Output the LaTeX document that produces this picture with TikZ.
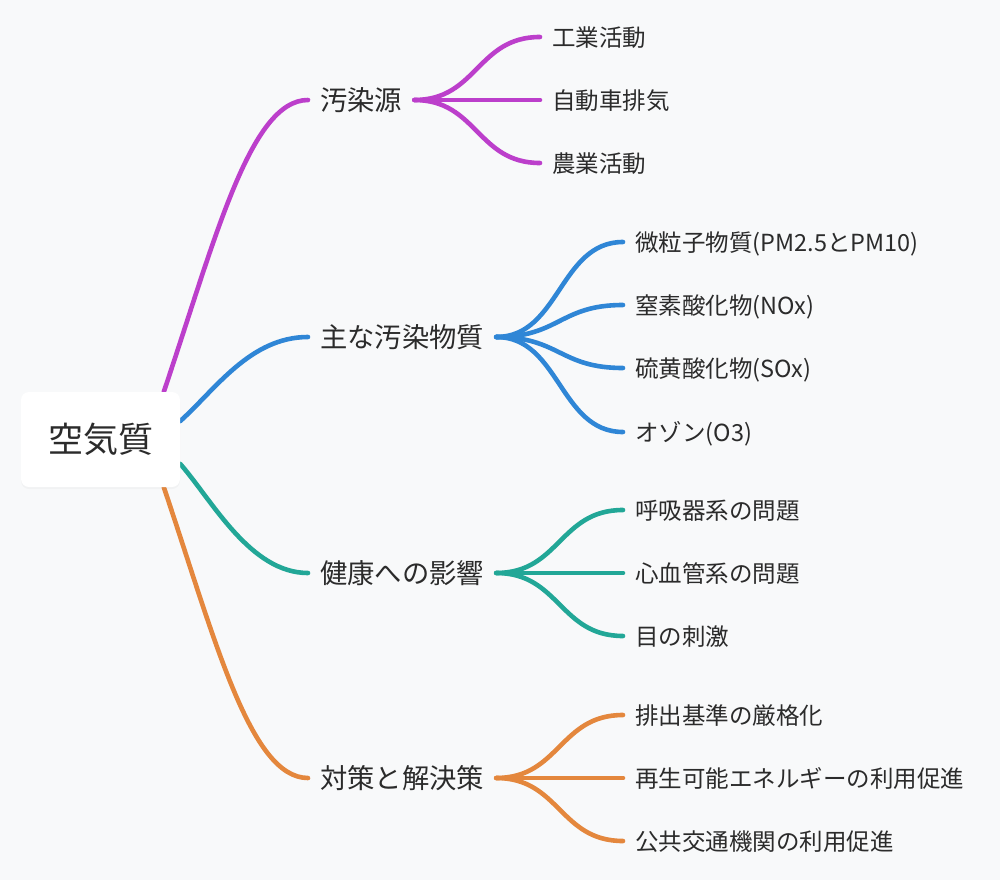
\documentclass[tikz,border=0pt]{standalone}
\usepackage{fontspec}
\setmainfont{Noto Sans CJK JP}
\usetikzlibrary{calc,shadows}
\definecolor{bgc}{HTML}{F8F9FA}
\definecolor{cpur}{HTML}{BC3FCB}
\definecolor{cblu}{HTML}{2F86D6}
\definecolor{ctea}{HTML}{22A797}
\definecolor{cora}{HTML}{E4873D}
\definecolor{txt}{HTML}{2B2B2B}
\pgfdeclarelayer{back}
\pgfsetlayers{back,main}
\newcommand{\mmcurve}[3]{%
  \path ($(#1.east)!0.5!(#2.west)$) coordinate (mmmid);
  \draw[edge,#3] (#1.east) .. controls (mmmid |- #1.east) and (mmmid |- #2.west) .. (#2.west);}
\begin{document}
\begin{tikzpicture}[x=1pt,y=-1pt,
  rootbox/.style={draw=none, fill=white, rounded corners=8pt, minimum width=159pt, minimum height=95pt,
    font=\fontsize{35}{40}\selectfont, text=txt, text height=30.8pt, text depth=4.2pt,
    drop shadow={opacity=0.05, shadow xshift=0pt, shadow yshift=-2pt}},
  lone/.style={anchor=west, inner xsep=12pt, inner ysep=0pt, text height=24pt, text depth=3.3pt,
    font=\fontsize{27.3}{31}\selectfont, text=txt},
  leaf/.style={anchor=west, inner xsep=12pt, inner ysep=0pt, text height=20.9pt, text depth=2.8pt,
    font=\fontsize{23.5}{27}\selectfont, text=txt},
  edge/.style={line width=4.6pt, line cap=round},
]
\begin{pgfonlayer}{back}
\fill[bgc] (0,0) rectangle (1000,880);
\end{pgfonlayer}
\useasboundingbox (0,0) rectangle (1000,880);

\node[rootbox] (root) at (100.5,439.5) {空気質};

\node[lone] (s) at (308,100) {汚染源};
\node[lone] (p) at (308,337) {主な汚染物質};
\node[lone] (h) at (308,573) {健康への影響};
\node[lone] (m) at (308,778) {対策と解決策};

\node[leaf] (s1) at (540,37)  {工業活動};
\node[leaf] (s2) at (540,100) {自動車排気};
\node[leaf] (s3) at (540,163) {農業活動};

\node[leaf] (p1) at (623,242) {微粒子物質(PM2.5とPM10)};
\node[leaf] (p2) at (623,305) {窒素酸化物(NOx)};
\node[leaf] (p3) at (623,368) {硫黄酸化物(SOx)};
\node[leaf] (p4) at (623,432) {オゾン(O3)};

\node[leaf] (h1) at (623,510) {呼吸器系の問題};
\node[leaf] (h2) at (623,573) {心血管系の問題};
\node[leaf] (h3) at (623,636) {目の刺激};

\node[leaf] (m1) at (623,715) {排出基準の厳格化};
\node[leaf] (m2) at (623,778) {再生可能エネルギーの利用促進};
\node[leaf] (m3) at (623,841) {公共交通機関の利用促進};

\begin{pgfonlayer}{back}
\draw[edge,cpur] (root.37.7) .. controls (215,240) and (250,100) .. (s.west);
\draw[edge,cblu] (root.13.8) .. controls (215,390) and (250,337) .. (p.west);
\draw[edge,ctea] (root.-17.8) .. controls (212,500) and (250,573) .. (h.west);
\draw[edge,cora] (root.-37.7) .. controls (215,639) and (250,778) .. (m.west);

\mmcurve{s}{s1}{cpur}
\mmcurve{s}{s2}{cpur}
\mmcurve{s}{s3}{cpur}
\mmcurve{p}{p1}{cblu}
\mmcurve{p}{p2}{cblu}
\mmcurve{p}{p3}{cblu}
\mmcurve{p}{p4}{cblu}
\mmcurve{h}{h1}{ctea}
\mmcurve{h}{h2}{ctea}
\mmcurve{h}{h3}{ctea}
\mmcurve{m}{m1}{cora}
\mmcurve{m}{m2}{cora}
\mmcurve{m}{m3}{cora}
\end{pgfonlayer}
\end{tikzpicture}
\end{document}
